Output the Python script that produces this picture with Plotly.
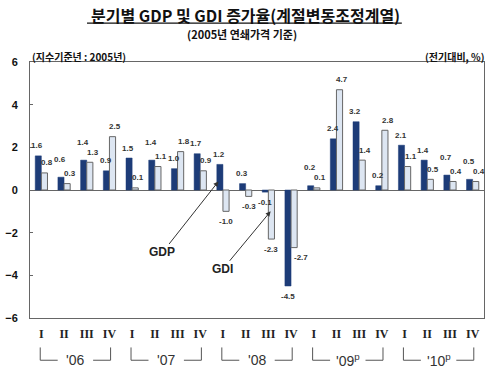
import plotly.graph_objects as go

quarters = ["I", "II", "III", "IV"] * 5
years = ["'06", "'07", "'08", "'09<sup>p</sup>", "'10<sup>p</sup>"]
gdp = [1.6, 0.6, 1.4, 0.9, 1.5, 1.4, 1.0, 1.7, 1.2, 0.3, -0.1, -4.5,
       0.2, 2.4, 3.2, 0.2, 2.1, 1.4, 0.7, 0.5]
gdi = [0.8, 0.3, 1.3, 2.5, 0.1, 1.1, 1.8, 0.9, -1.0, -0.3, -2.3, -2.7,
       0.1, 4.7, 1.4, 2.8, 1.1, 0.5, 0.4, 0.4]

x = list(range(len(gdp)))
KR = "Noto Sans CJK KR"
SANS = "Liberation Sans, Arial"
GDP_COLOR = "#1d3c78"
GDI_COLOR = "#dde6f2"

fig = go.Figure()
fig.add_trace(go.Bar(x=x, y=gdp, name="GDP", marker=dict(color=GDP_COLOR, line=dict(color=GDP_COLOR, width=0.5))))
fig.add_trace(go.Bar(x=x, y=gdi, name="GDI", marker=dict(color=GDI_COLOR, line=dict(color="#666666", width=1))))

lab_font = dict(family=SANS, size=8, color="#333333", weight="bold")
for i in x:
    a, b = gdp[i], gdi[i]
    close = (a * b > 0) and abs(a - b) < 0.35
    for v, dx, is_gdi in ((a, -0.13, False), (b, 0.13, True)):
        extra = 8 if (close and abs(v) == max(abs(a), abs(b))) else 0
        sign = 1 if v >= 0 else -1
        if v >= 0:
            xs = 3.0 if is_gdi else -1.0
        else:
            xs = 7.0 if (is_gdi and a < b) else 0.0
        fig.add_annotation(x=i + dx, y=v, text=f"{v:.1f}",
                           showarrow=False, font=lab_font,
                           xshift=xs, yshift=sign * (10 + extra))

# Arrow annotations
fig.add_annotation(x=8 - 0.2, y=0.4, ax=-56, ay=71, text="GDP",
                   showarrow=True, arrowhead=2, arrowsize=1, arrowwidth=1, arrowcolor="#333333",
                   font=dict(family=SANS, size=12, color="#222222", weight="bold"))
fig.add_annotation(x=10 + 0.1, y=-1.0, ax=-48, ay=58, text="GDI",
                   showarrow=True, arrowhead=2, arrowsize=1, arrowwidth=1, arrowcolor="#333333",
                   font=dict(family=SANS, size=12, color="#222222", weight="bold"))

# Year brackets
y_top, y_bot = -0.115, -0.165
for k, yr in enumerate(years):
    l, r = 4 * k - 0.05, 4 * k + 3 + 0.05
    c = 4 * k + 1.5
    g = 0.78
    line = dict(color="#555555", width=1)
    fig.add_shape(type="line", xref="x", yref="paper", x0=l, x1=l, y0=y_top, y1=y_bot, line=line)
    fig.add_shape(type="line", xref="x", yref="paper", x0=l, x1=c - g, y0=y_bot, y1=y_bot, line=line)
    fig.add_shape(type="line", xref="x", yref="paper", x0=c + g, x1=r, y0=y_bot, y1=y_bot, line=line)
    fig.add_shape(type="line", xref="x", yref="paper", x0=r, x1=r, y0=y_top, y1=y_bot, line=line)
    fig.add_annotation(x=c, y=y_bot, xref="x", yref="paper", text=yr, showarrow=False,
                       font=dict(family=SANS, size=14, color="#333333"),
                       yanchor="middle")

# Titles
fig.add_annotation(x=0.474, y=1.184, xref="paper", yref="paper", xanchor="center", yanchor="middle",
                   text="분기별 GDP 및 GDI 증가율(계절변동조정계열)", showarrow=False,
                   font=dict(family=KR, size=16, color="#111111", weight="bold"))
fig.add_shape(type="line", xref="paper", yref="paper", x0=0.1256, x1=0.819, y0=1.152, y1=1.152,
              line=dict(color="#111111", width=1.3))
fig.add_annotation(x=0.467, y=1.11, xref="paper", yref="paper", xanchor="center", yanchor="middle",
                   text="(2005년 연쇄가격 기준)", showarrow=False,
                   font=dict(family=KR, size=11, color="#111111", weight="bold"))
fig.add_annotation(x=0.0, y=1.022, xref="paper", yref="paper", xanchor="left", yanchor="middle",
                   text="(지수기준년 : 2005년)", showarrow=False,
                   font=dict(family=KR, size=10, color="#111111", weight="bold"))
fig.add_annotation(x=1.006, y=1.022, xref="paper", yref="paper", xanchor="right", yanchor="middle",
                   text="(전기대비, %)", showarrow=False,
                   font=dict(family=KR, size=10, color="#111111", weight="bold"))

fig.update_layout(
    width=500, height=380,
    margin=dict(l=30, r=16, t=62, b=62, autoexpand=False),
    paper_bgcolor="white", plot_bgcolor="white",
    barmode="group", bargap=0.46, bargroupgap=0,
    showlegend=False,
    xaxis=dict(range=[-0.5, 19.5], tickvals=x, ticktext=quarters,
               tickfont=dict(family="Liberation Serif, DejaVu Serif", size=12, color="#222222", weight="bold"),
               ticks="", showgrid=False, zeroline=False,
               showline=True, linecolor="#666666", linewidth=1, mirror=True,
               ticklabelstandoff=5, fixedrange=True),
    yaxis=dict(range=[-6, 6], tickvals=[-6, -4, -2, 0, 2, 4, 6],
               tickfont=dict(family=SANS, size=11, color="#111111", weight="bold"),
               ticks="inside", ticklen=3, tickcolor="#666666",
               showgrid=False, zeroline=True, zerolinecolor="#666666", zerolinewidth=1,
               showline=True, linecolor="#666666", linewidth=1, mirror=True,
               ticklabelstandoff=9, fixedrange=True),
)

fig.write_html("out.html", config={"displayModeBar": False},
               post_script="document.body.style.margin='0';")
